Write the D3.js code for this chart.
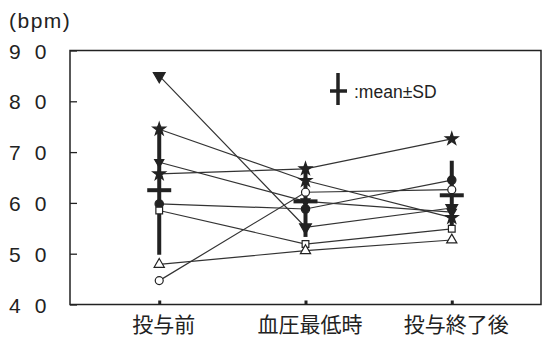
<!DOCTYPE html>
<html><head><meta charset="utf-8">
<script src="https://cdn.jsdelivr.net/npm/d3@7"></script>
<style>body{margin:0;background:#fff}svg{display:block}</style>
</head><body>
<svg id="c" width="547" height="346"></svg>
<script>
const categories = ["投与前", "血圧最低時", "投与終了後"];
const yTicks = [40, 50, 60, 70, 80, 90];
const seriesA = [85.0, 55.2, 59.0];   // filled down-triangle
const seriesB = [74.5, 64.4, 57.1];   // star
const seriesC = [68.0, 60.3, 58.2];   // small down-triangle
const seriesD = [65.7, 66.7, 72.6];   // star
const seriesE = [59.8, 58.8, 64.5];   // filled circle
const seriesF = [58.5, 51.9, 54.9];   // open square
const seriesG = [47.9, 50.6, 52.7];   // open triangle
const seriesH = [44.7, 62.1, 62.6];   // open circle
const means = [62.5, 60.3, 61.5];
const sds = [12.7, 7.0, 6.8];

const series = [
  {v: seriesA, sym: d3.symbolTriangle, rot: 180, fill: true, size: 60},
  {v: seriesB, sym: d3.symbolStar, rot: 0, fill: true, size: 50},
  {v: seriesC, sym: d3.symbolTriangle, rot: 180, fill: true, size: 36},
  {v: seriesD, sym: d3.symbolStar, rot: 0, fill: true, size: 50},
  {v: seriesE, sym: d3.symbolCircle, rot: 0, fill: true, size: 55},
  {v: seriesF, sym: d3.symbolSquare, rot: 0, fill: false, size: 45},
  {v: seriesG, sym: d3.symbolTriangle, rot: 0, fill: false, size: 45},
  {v: seriesH, sym: d3.symbolCircle, rot: 0, fill: false, size: 50}
];

const svg = d3.select("#c");
const L = 70, R = 541, T = 50.5, B = 304.5;
const x = d3.scalePoint().domain(categories).range([L, R]).padding(0.61);
const y = d3.scaleLinear().domain([40, 90]).range([B, T]);
const ink = "#222";

// frame
svg.append("rect").attr("x", L).attr("y", T).attr("width", R - L).attr("height", B - T)
  .attr("fill", "none").attr("stroke", ink).attr("stroke-width", 1.5);

// y axis
const gy = svg.append("g").attr("transform", `translate(${L},0)`)
  .call(d3.axisLeft(y).tickValues(yTicks).tickSize(-7).tickPadding(10));
gy.select(".domain").remove();
gy.selectAll(".tick line").attr("stroke", ink).attr("stroke-width", 1.3);
gy.selectAll(".tick text").attr("x", 9 - L).attr("text-anchor", "start")
  .attr("font-family", "Liberation Sans, Arial, sans-serif").attr("font-size", 21)
  .attr("letter-spacing", "14px").attr("fill", ink).attr("dy", "0.36em");

// x axis
const gx = svg.append("g").attr("transform", `translate(0,${B})`)
  .call(d3.axisBottom(x).tickSize(-4).tickPadding(13));
gx.select(".domain").remove();
gx.selectAll(".tick line").attr("stroke", ink).attr("stroke-width", 3);
gx.selectAll(".tick text").attr("dx", 4)
  .attr("font-family", "Noto Sans CJK JP, sans-serif").attr("font-size", 21).attr("fill", ink);

// unit label
svg.append("text").attr("x", 9).attr("y", 28).text("(bpm)")
  .attr("font-family", "Liberation Sans, Arial, sans-serif").attr("font-size", 21)
  .attr("letter-spacing", "1.5px").attr("fill", ink);

// lines
const line = d3.line().x((d, i) => x(categories[i])).y(d => y(d));
svg.append("g").selectAll("path").data(series).join("path")
  .attr("d", s => line(s.v)).attr("fill", "none").attr("stroke", "#333").attr("stroke-width", 1.2);

// mean ± SD (vertical bars)
const ms = svg.append("g");
categories.forEach((c, i) => {
  ms.append("line").attr("x1", x(c)).attr("x2", x(c))
    .attr("y1", y(means[i] + sds[i])).attr("y2", y(means[i] - sds[i]))
    .attr("stroke", ink).attr("stroke-width", 4);
});

// markers
const mg = svg.append("g");
series.forEach(s => {
  s.v.forEach((v, i) => {
    mg.append("path").attr("d", d3.symbol().type(s.sym).size(s.size)())
      .attr("transform", `translate(${x(categories[i])},${y(v)}) rotate(${s.rot})`)
      .attr("fill", s.fill ? ink : "#fff").attr("stroke", ink).attr("stroke-width", 1.2);
  });
});

// mean bars on top
const mb = svg.append("g");
categories.forEach((c, i) => {
  mb.append("line").attr("x1", x(c) - 12).attr("x2", x(c) + 12)
    .attr("y1", y(means[i])).attr("y2", y(means[i]))
    .attr("stroke", ink).attr("stroke-width", 4);
});

// legend
const lg = svg.append("g");
lg.append("line").attr("x1", 338).attr("x2", 338).attr("y1", 73).attr("y2", 105).attr("stroke", ink).attr("stroke-width", 3.5);
lg.append("line").attr("x1", 330).attr("x2", 347).attr("y1", 91).attr("y2", 91).attr("stroke", ink).attr("stroke-width", 3.5);
lg.append("text").attr("x", 354).attr("y", 97.5).text(":mean±SD")
  .attr("font-family", "Liberation Sans, Arial, sans-serif").attr("font-size", 17.5).attr("fill", ink);
</script>
</body></html>
